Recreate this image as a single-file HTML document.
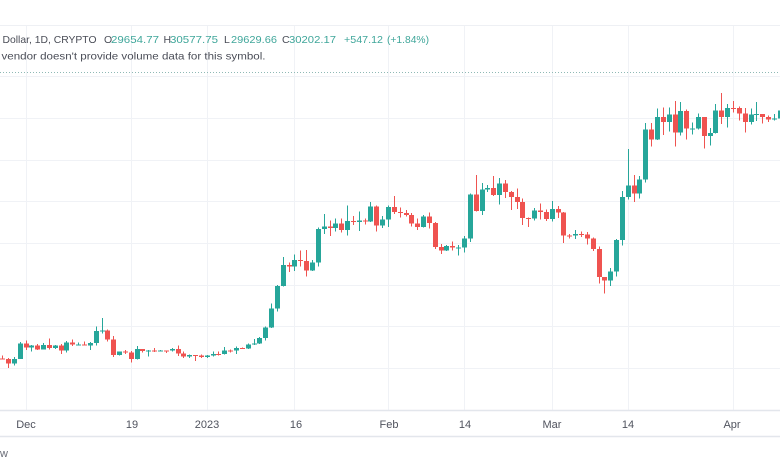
<!DOCTYPE html>
<html><head><meta charset="utf-8"><style>
html,body{margin:0;padding:0;background:#fff;}
body{width:780px;height:470px;overflow:hidden;}
svg{display:block;}
text{font-family:"Liberation Sans","DejaVu Sans",sans-serif;}
</style></head><body>
<svg id="c" width="780" height="470" viewBox="0 0 780 470" xmlns="http://www.w3.org/2000/svg">
<rect x="0" y="0" width="780" height="470" fill="#fff"/>
<line x1="0" y1="25.5" x2="780" y2="25.5" stroke="#eef0f4" stroke-width="1"/>
<g id="grid" stroke="#f0f2f6" stroke-width="1" shape-rendering="crispEdges"></g>
<line x1="0" y1="72.5" x2="780" y2="72.5" stroke="#8fb9b5" stroke-width="1" stroke-dasharray="1,2"/>
<g id="candles" shape-rendering="crispEdges"></g>
<line x1="0" y1="410.5" x2="780" y2="410.5" stroke="#e3e6ec" stroke-width="1.5"/>
<line x1="0" y1="436.5" x2="780" y2="436.5" stroke="#e3e6ec" stroke-width="1.5"/>
<g font-size="10.5">
<text x="2.5" y="43" fill="#4a4d57" textLength="94" lengthAdjust="spacingAndGlyphs">Dollar, 1D, CRYPTO</text>
<text x="104" y="43" fill="#4a4d57">O</text>
<text x="111" y="43" fill="#3fa69a" textLength="48" lengthAdjust="spacingAndGlyphs">29654.77</text>
<text x="163.5" y="43" fill="#4a4d57">H</text>
<text x="170" y="43" fill="#3fa69a" textLength="48" lengthAdjust="spacingAndGlyphs">30577.75</text>
<text x="224" y="43" fill="#4a4d57">L</text>
<text x="231" y="43" fill="#3fa69a" textLength="46" lengthAdjust="spacingAndGlyphs">29629.66</text>
<text x="282" y="43" fill="#4a4d57">C</text>
<text x="289" y="43" fill="#3fa69a" textLength="47" lengthAdjust="spacingAndGlyphs">30202.17</text>
<text x="344" y="43" fill="#3fa69a" textLength="39" lengthAdjust="spacingAndGlyphs">+547.12</text>
<text x="387" y="43" fill="#3fa69a" textLength="42" lengthAdjust="spacingAndGlyphs">(+1.84%)</text>
<text x="1.5" y="59.5" fill="#4a4d57" textLength="264" lengthAdjust="spacingAndGlyphs">vendor doesn't provide volume data for this symbol.</text>
</g>
<g font-size="11" fill="#50535e" text-anchor="middle">
<text x="26" y="428">Dec</text>
<text x="132" y="428">19</text>
<text x="207" y="428">2023</text>
<text x="296" y="428">16</text>
<text x="389" y="428">Feb</text>
<text x="465" y="428">14</text>
<text x="552" y="428">Mar</text>
<text x="628" y="428">14</text>
<text x="732" y="428">Apr</text>
</g>
<text x="0" y="457" font-size="11" fill="#6a6d78">w</text>
</svg>
<script>
(function(){
var D=[
[16460,16600,16400,16440],[16440,16480,15990,16210],[16210,16530,16110,16440],[16440,17240,16430,17165],
[17165,17320,16860,16980],[16980,17100,16790,17090],[17090,17150,16870,16890],[16890,17200,16880,17110],
[17110,17420,16880,16970],[16970,17110,16910,17090],[17090,17140,16680,16840],[16840,17300,16740,17225],
[17225,17360,17060,17130],[17130,17230,17100,17130],[17130,17270,17070,17090],[17090,17240,16870,17210],
[17210,18000,17090,17780],[17780,18390,17660,17810],[17810,17850,17280,17360],[17360,17530,16530,16630],
[16630,16800,16590,16780],[16780,16870,16670,16740],[16740,16820,16260,16440],[16440,17050,16400,16900],
[16900,16920,16750,16820],[16820,16860,16560,16830],[16830,16950,16760,16780],[16780,16870,16780,16840],
[16840,16850,16730,16830],[16830,16950,16800,16920],[16920,17090,16570,16700],[16700,16780,16470,16540],
[16540,16650,16480,16630],[16630,16630,16330,16600],[16600,16640,16480,16530],
[16530,16630,16490,16610],[16610,16780,16550,16670],[16670,16780,16600,16660],[16660,17000,16650,16850],
[16850,16880,16750,16830],[16830,17040,16680,16950],[16950,16980,16910,16940],[16940,17170,16910,17120],
[17120,17400,17100,17180],[17180,17490,17150,17440],[17440,17990,17320,17940],[17940,19100,17920,18850],
[18850,19990,18720,19930],[19930,21330,19900,20950],[20950,21060,20600,20880],[20880,21450,20660,21190],
[21190,21640,20860,21140],[21140,21650,20400,20680],[20680,21190,20660,21070],[21070,22750,20880,22670],
[22670,23380,22420,22780],[22780,23080,22330,22710],[22710,23170,22540,22920],[22920,23180,22500,22630],
[22630,23800,22350,23060],[23060,23290,22870,23010],[23010,23500,22560,23080],[23080,23180,22880,23030],
[23030,23950,23000,23740],[23740,23800,22550,22830],[22830,23300,22710,23130],
[23130,23800,22770,23730],[23730,24250,23390,23490],[23490,23700,23230,23430],[23430,23580,23270,23330],
[23330,23440,22780,22930],[22930,23160,22630,22760],[22760,23340,22740,23260],[23260,23450,22680,22960],
[22960,23010,21700,21800],[21800,21940,21460,21630],[21630,21910,21600,21860],[21860,22070,21640,21780],
[21780,21900,21390,21790],[21790,22320,21530,22200],[22200,24380,22050,24330],[24330,25250,23500,23520],
[23520,24870,23350,24570],[24570,24770,24430,24630],[24630,25200,24250,24300],[24300,25120,23850,24840],
[24840,25020,24150,24440],[24440,24480,23580,24190],[24190,24600,23620,23950],[23950,24140,22850,23190],
[23190,23220,22760,23160],[23160,23680,23080,23560],[23560,23880,23120,23490],[23490,23610,23060,23140],
[23140,24000,23020,23630],[23630,23780,23200,23470],[23470,23480,22000,22360],[22360,22430,22200,22350],
[22350,22630,22180,22430],[22430,22550,22290,22410],[22410,22530,21930,22200],[22200,22270,21600,21700],
[21700,21830,20050,20360],[20360,20370,19570,20190],[20190,20800,19930,20630],[20630,22180,20380,22150],
[22150,24500,21880,24200],[24200,26500,24080,24750],[24750,25250,23950,24380],[24380,25200,24130,25050],
[25050,27760,24900,27450],[27450,27740,26620,26970],[26970,28450,26930,28040],[28040,28500,27170,27800],
[27800,28500,27350,28170],[28170,28800,26620,27300],[27300,28750,27160,28330],[28330,28410,26950,27490],
[27490,27770,27200,27490],[27490,28200,27440,28030],[28030,28030,26520,27130],[27130,27500,26680,27270],
[27270,28650,27240,28350],[28350,29190,27710,28030],[28030,28660,27530,28480],
[28480,28800,28260,28460],[28460,28530,27870,28200],[28200,28480,27290,27810],[27810,28450,27690,28170],
[28170,28760,27840,28180],[28180,28190,27730,28040],[28040,28100,27800,27930],[27930,28180,27880,27960],
[27960,28530,27820,28340],[28340,29800,28200,29650]
];
var NS="http://www.w3.org/2000/svg";
function X(d){return 25.5+5.847*d;}
function Y(p){return 368-(p-16000)*0.02085;}
var g=document.getElementById("grid");
[0,18,31,46,62,75,90,103,121].forEach(function(d){
 var l=document.createElementNS(NS,"line");var x=Math.round(X(d))+0.5;
 l.setAttribute("x1",x);l.setAttribute("x2",x);l.setAttribute("y1",26);l.setAttribute("y2",410);g.appendChild(l);});
for(var p=16000;p<=30000;p+=2000){
 var l=document.createElementNS(NS,"line");var y=Math.round(Y(p))+0.5;
 l.setAttribute("x1",0);l.setAttribute("x2",780);l.setAttribute("y1",y);l.setAttribute("y2",y);g.appendChild(l);}
var cg=document.getElementById("candles");
D.forEach(function(c,i){
 var d=i-4;var cx=Math.round(X(d));
 if(cx<-4||cx>784)return;
 var up=c[3]>=c[0];var col=up?"#26a69a":"#ef5350";
 var w=document.createElementNS(NS,"rect");
 var yh=Y(c[1]),yl=Y(c[2]);
 w.setAttribute("x",cx);w.setAttribute("y",yh);w.setAttribute("width",1);w.setAttribute("height",Math.max(1,yl-yh));w.setAttribute("fill",col);cg.appendChild(w);
 var yt=Y(Math.max(c[0],c[3])),yb=Y(Math.min(c[0],c[3]));
 var b=document.createElementNS(NS,"rect");
 b.setAttribute("x",cx-2);b.setAttribute("y",yt);b.setAttribute("width",5);b.setAttribute("height",Math.max(1,yb-yt));b.setAttribute("fill",col);cg.appendChild(b);
});
})();
</script>
</body></html>
